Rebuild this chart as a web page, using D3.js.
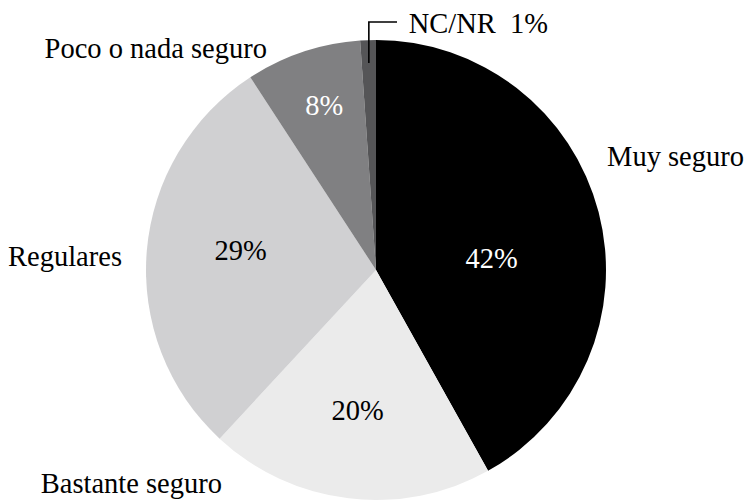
<!DOCTYPE html>
<html>
<head>
<meta charset="utf-8">
<script src="https://cdn.jsdelivr.net/npm/d3@7"></script>
<style>
  body { margin: 0; background: #fff; }
  text { font-family: "Liberation Serif", serif; }
</style>
</head>
<body>
<div id="chart"></div>
<script>
// data
const categories = ["Muy seguro", "Bastante seguro", "Regulares", "Poco o nada seguro", "NC/NR"];
const values = [41.9, 20.0, 28.9, 8.1, 1.1];
const pctLabels = ["42%", "20%", "29%", "8%", "1%"];
const colors = ["#000000", "#ebebeb", "#d0d0d2", "#808082", "#555557"];

const width = 747, height = 501;
const cx = 376, cy = 270, r = 230;
const fs = 28.5;

const svg = d3.select("#chart").append("svg")
    .attr("width", width)
    .attr("height", height);

const pie = d3.pie().sort(null).value(d => d);
const arcs = pie(values);
const arc = d3.arc().innerRadius(0).outerRadius(r);

const g = svg.append("g").attr("transform", `translate(${cx},${cy})`);

g.selectAll("path")
  .data(arcs)
  .join("path")
    .attr("d", arc)
    .attr("fill", (d, i) => colors[i]);

// inner percentage labels (centroid, nudged by hand to match)
const labelArc = d3.arc().innerRadius(0).outerRadius(r * 1.2);
const inNudge = [[-18, 24], [-2, 4], [2, -7], [4, 2]];
g.selectAll("text.pct")
  .data(arcs.slice(0, 4))
  .join("text")
    .attr("class", "pct")
    .attr("text-anchor", "middle")
    .attr("font-size", fs)
    .attr("fill", (d, i) => (i == 0 || i == 3) ? "#fff" : "#000")
    .attr("x", (d, i) => labelArc.centroid(d)[0] * (i == 3 ? 1.27 : 1) + inNudge[i][0])
    .attr("y", (d, i) => labelArc.centroid(d)[1] * (i == 3 ? 1.27 : 1) + inNudge[i][1] + 9)
    .text((d, i) => pctLabels[i]);

// outer category labels
const outer = [
  {x: 744, y: 166, anchor: "end"},
  {x: 222, y: 493, anchor: "end"},
  {x: 122, y: 266, anchor: "end"},
  {x: 267, y: 58, anchor: "end"},
  {x: 548, y: 33, anchor: "end"}
];
svg.selectAll("text.cat")
  .data(categories)
  .join("text")
    .attr("class", "cat")
    .attr("font-size", fs)
    .attr("text-anchor", (d, i) => outer[i].anchor)
    .attr("x", (d, i) => outer[i].x)
    .attr("y", (d, i) => outer[i].y)
    .attr("xml:space", "preserve")
    .text((d, i) => i == 4 ? d + "  " + pctLabels[4] : d);

// leader line for the NC/NR slice
const nc = arcs[4];
const mid = (nc.startAngle + nc.endAngle) / 2;
const px = Math.sin(mid) * (r - 23), py = -Math.cos(mid) * (r - 23);
g.append("path")
  .attr("d", `M${px},${py}V${-248}H${397 - cx}`)
  .attr("fill", "none")
  .attr("stroke", "#000")
  .attr("stroke-width", 1.6);
</script>
</body>
</html>
